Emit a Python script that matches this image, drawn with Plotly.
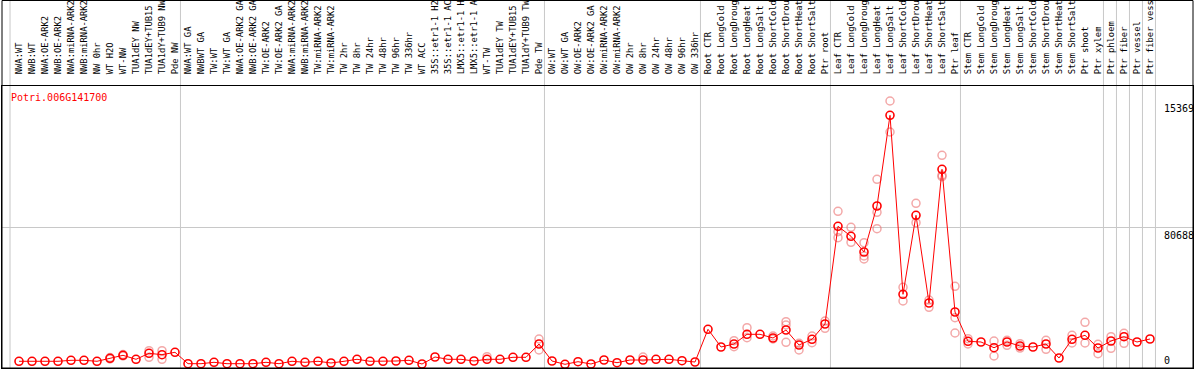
import plotly.graph_objects as go

gene = "Potri.006G141700"

# category labels as they are displayed (long names are shown truncated in the header)
categories = [
    "NWA:WT", "NWB:WT", "NWA:OE-ARK2", "NWB:OE-ARK2", "NWA:miRNA-ARK2", "NWB:miRNA-ARK2",
    "NW 0hr", "WT H2O", "WT-NW", "TUA1dEY NW", "TUA1dEY+TUB15", "TUA1dY+TUB9 NW", "Pde NW",
    "NWA:WT GA", "NWBWT GA", "TW:WT", "TW:WT GA", "NWA:OE-ARK2 GA", "NWB:OE-ARK2 GA",
    "TW:OE-ARK2", "TW:OE-ARK2 GA", "NWA:miRNA-ARK2", "NWB:miRNA-ARK2", "TW:miRNA-ARK2",
    "TW:miRNA-ARK2", "TW 2hr", "TW 8hr", "TW 24hr", "TW 48hr", "TW 96hr", "TW 336hr", "WT ACC",
    "35S::etr1-1 H2", "35S::etr1-1 AC", "LMX5::etr1-1 H", "LMX5::etr1-1 A", "WT-TW",
    "TUA1dEY TW", "TUA1dEY+TUB15", "TUA1dY+TUB9 TW", "Pde TW",
    "OW:WT", "OW:WT GA", "OW:OE-ARK2", "OW:OE-ARK2 GA", "OW:miRNA-ARK2", "OW:miRNA-ARK2",
    "OW 2hr", "OW 8hr", "OW 24hr", "OW 48hr", "OW 96hr", "OW 336hr",
    "Root CTR", "Root LongCold", "Root LongDroug", "Root LongHeat", "Root LongSalt",
    "Root ShortCold", "Root ShortDrou", "Root ShortHeat", "Root ShortSalt", "Ptr root",
    "Leaf CTR", "Leaf LongCold", "Leaf LongDroug", "Leaf LongHeat", "Leaf LongSalt",
    "Leaf ShortCold", "Leaf ShortDrou", "Leaf ShortHeat", "Leaf ShortSalt", "Ptr leaf",
    "Stem CTR", "Stem LongCold", "Stem LongDroug", "Stem LongHeat", "Stem LongSalt",
    "Stem ShortCold", "Stem ShortDrou", "Stem ShortHeat", "Stem ShortSalt", "Ptr shoot",
    "Ptr xylem", "Ptr phloem", "Ptr fiber", "Ptr vessel", "Ptr fiber vess",
]

mean_values = [
    3860, 3860, 3860, 3860, 4430, 4430, 3860, 5580, 7310, 5010, 8460, 7660, 9040,
    2480, 2480, 3280, 2480, 2480, 2480, 3280, 2480, 3860, 3280, 3860, 2880, 3860, 5010,
    3860, 3860, 4030, 4430, 2300, 6330, 5010, 5010, 4030, 5010, 5010, 6160, 6160, 13810,
    4030, 2130, 3630, 2300, 4600, 3050, 4600, 4600, 5010, 5010, 4200, 3450,
    22280, 12090, 13810, 19400, 19400, 17270, 21870, 13240, 16520, 25330,
    81560, 75810, 66770, 93250, 145450, 42420, 87890, 37410, 114370, 32230,
    15370, 14970, 11680, 14970, 12660, 12090, 13810, 5760, 16520, 18820,
    11510, 15540, 18020, 14970, 16690,
]

rep_index = [
    7, 7, 8, 8, 10, 10, 11, 11, 36, 40, 40, 48,
    55, 55, 56, 56, 58, 58, 59, 59, 59, 60, 60, 61, 61, 62, 62,
    63, 63, 63, 64, 64, 65, 65, 65, 66, 66, 66, 67, 67, 68, 68, 69, 69, 70, 70,
    71, 71, 71, 72, 72, 72,
    73, 73, 75, 75, 76, 76, 77, 77, 79, 79, 81, 81, 82, 82, 83, 83, 84, 84, 85, 85,
]
rep_values = [
    6000, 5200, 7700, 6900, 9960, 6160, 9960, 5010, 6500, 16690, 10360, 6330,
    15710, 12260, 23200, 17440, 18420, 16690, 26650, 24750, 14790, 10360, 14220, 18420, 14560, 27050, 22850,
    90200, 78450, 75000, 80990, 72350, 72120, 64470, 62740, 108610, 89620, 80180, 153690, 135840,
    46450, 38570, 94800, 83630, 39140, 34940,
    122430, 110920, 110110, 47030, 28950, 20150,
    16870, 13810, 15540, 6910, 15940, 13070, 13990, 11500, 15940, 10760, 18820, 14390, 26300, 14390,
    13640, 8230, 18020, 11340, 19970, 14220,
]

separator_after = [-1, 12, 40, 52, 62, 72, 83, 84, 85, 86, 87]
y_label_values = [153690, 80688, 0]
y_label_text = ["15369", "80688", "0"]
grid_values = [80688]

W, H = 1194, 370
ML, MR, MT, MB = 2, 1, 86, 2
plot_w = W - ML - MR
plot_h = H - MT - MB
step_px = 13.0
first_px = 19.0
x0 = -(first_px - ML) / step_px
x1 = x0 + plot_w / step_px
y_per_px = 575.6
y_max = plot_h * y_per_px

mono = "DejaVu Sans Mono"
idx = list(range(len(categories)))

fig = go.Figure()
fig.add_trace(go.Scatter(
    x=rep_index, y=rep_values, mode="markers",
    marker=dict(symbol="circle-open", size=8, color="rgba(235,110,110,0.6)", line=dict(width=1.5)),
    hoverinfo="skip", showlegend=False,
))
fig.add_trace(go.Scatter(
    x=idx, y=mean_values, mode="lines+markers",
    line=dict(color="#ff0000", width=1),
    marker=dict(symbol="circle-open", size=8, color="#ff0000", line=dict(width=1.6)),
    showlegend=False,
))

shapes = []
for s in separator_after:
    xpos = s + (0.31 if s < 0 else 0.42)
    shapes.append(dict(type="line", xref="x", yref="paper", x0=xpos, x1=xpos,
                       y0=0, y1=(H - MB) / plot_h + 0.01,
                       line=dict(color="#c8c8c8", width=1), layer="below"))
# outer frame (extends through header)
top_paper = (H - MB - 0.5) / plot_h
shapes.append(dict(type="rect", xref="paper", yref="paper", x0=0, x1=1, y0=0, y1=top_paper,
                   line=dict(color="black", width=1)))

annotations = [
    dict(text=gene, xref="paper", yref="paper", x=(9 - ML) / plot_w, y=1 - (97 - MT) / plot_h,
         xanchor="left", yanchor="middle", showarrow=False,
         font=dict(family=mono, size=10, color="#ff0000")),
]
for v, t in zip(y_label_values, y_label_text):
    annotations.append(dict(text=t, xref="paper", yref="y", x=(1162 - ML) / plot_w, y=v,
                            xanchor="left", yanchor="bottom" if v == 0 else "top",
                            showarrow=False, font=dict(family=mono, size=10, color="black")))

fig.update_layout(
    width=W, height=H,
    margin=dict(l=ML, r=MR, t=MT, b=MB, autoexpand=False),
    plot_bgcolor="white", paper_bgcolor="white",
    xaxis=dict(range=[x0, x1], side="top", tickmode="array", tickvals=idx, ticktext=categories,
               tickangle=-90, tickfont=dict(family=mono, size=8.8, color="black"),
               ticklabelstandoff=9,
               showgrid=False, zeroline=False, showline=True, linecolor="black", linewidth=1,
               mirror=True, ticks="", automargin=False),
    yaxis=dict(range=[0, y_max], tickmode="array", tickvals=grid_values, showticklabels=False,
               showgrid=True, gridcolor="#c8c8c8", gridwidth=1, zeroline=False,
               showline=True, linecolor="black", mirror=True, ticks="", automargin=False),
    shapes=shapes, annotations=annotations,
)

fig.write_html(
    "out.html",
    config={"displayModeBar": False},
    post_script="document.body.style.margin='0';document.body.style.overflow='hidden';",
)
